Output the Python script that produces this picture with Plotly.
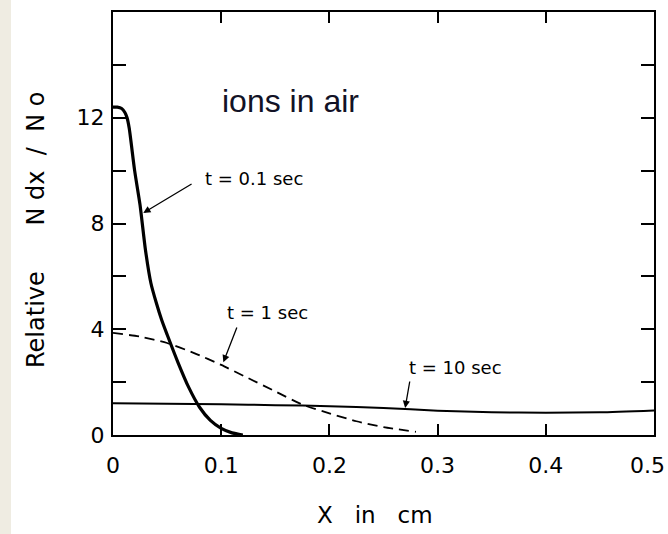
import plotly.graph_objects as go

# ---- data ----
x_t01 = [0, 0.004, 0.008, 0.011, 0.013, 0.015, 0.02, 0.025, 0.03, 0.035, 0.04, 0.045,
         0.05, 0.06, 0.07, 0.08, 0.09, 0.1, 0.11, 0.12]
y_t01 = [12.4, 12.4, 12.35, 12.2, 12.0, 11.6, 10.0, 8.7, 7.0, 5.75, 5.0, 4.35,
         3.8, 2.75, 1.8, 1.05, 0.55, 0.25, 0.08, 0.0]

x_t1 = [0, 0.025, 0.05, 0.075, 0.1, 0.125, 0.15, 0.175, 0.2, 0.225, 0.25, 0.28]
y_t1 = [3.86, 3.72, 3.48, 3.1, 2.65, 2.15, 1.65, 1.15, 0.82, 0.52, 0.3, 0.12]

x_t10 = [0, 0.05, 0.1, 0.15, 0.2, 0.25, 0.3, 0.35, 0.4, 0.45, 0.5]
y_t10 = [1.2, 1.18, 1.16, 1.13, 1.09, 1.02, 0.92, 0.86, 0.84, 0.86, 0.93]

x_tickvals = [0, 0.1, 0.2, 0.3, 0.4, 0.5]
x_ticktext = ["0", "0.1", "0.2", "0.3", "0.4", "0.5"]
y_tickvals = [0, 2, 4, 6, 8, 10, 12, 14]
y_ticktext = ["0", "", "4", "", "8", "", "12", ""]

labels = ["t = 0.1 sec", "t = 1 sec", "t = 10 sec"]

FONT = "DejaVu Sans"
NB = "\u00a0"

fig = go.Figure()
fig.add_trace(go.Scatter(x=x_t01, y=y_t01, mode="lines",
                         line=dict(color="black", width=3.2, shape="spline", smoothing=0.6),
                         showlegend=False, hoverinfo="skip"))
fig.add_trace(go.Scatter(x=x_t1, y=y_t1, mode="lines",
                         line=dict(color="black", width=1.8, dash="10px,6px", shape="spline", smoothing=0.6),
                         showlegend=False, hoverinfo="skip"))
fig.add_trace(go.Scatter(x=x_t10, y=y_t10, mode="lines",
                         line=dict(color="black", width=2, shape="spline", smoothing=0.6),
                         showlegend=False, hoverinfo="skip"))

annotations = []
# arrows (head at curve, tail near label)
arrows = [((0.028, 8.4), (0.074, 9.53)),
          ((0.102, 2.75), (0.115, 4.12)),
          ((0.27, 1.02), (0.2745, 2.08))]
for (hx, hy), (tx, ty) in arrows:
    annotations.append(dict(x=hx, y=hy, ax=tx, ay=ty, xref="x", yref="y", axref="x", ayref="y",
                            text="", showarrow=True, arrowhead=2, arrowsize=1.1,
                            arrowwidth=1.3, arrowcolor="black", standoff=0, startstandoff=0))
label_pos = [(0.0835, 9.72), (0.1035, 4.65), (0.2717, 2.57)]
for (lx, ly), t in zip(label_pos, labels):
    annotations.append(dict(x=lx, y=ly, xref="x", yref="y", text=t, showarrow=False,
                            xanchor="left", yanchor="middle",
                            font=dict(family=FONT, size=18, color="black")))
annotations.append(dict(x=0.099, y=12.63, xref="x", yref="y", text="ions in air", showarrow=False,
                        xanchor="left", yanchor="middle",
                        font=dict(family="Liberation Sans, Arial", size=32, color="#121226")))
annotations.append(dict(x=0.485, y=-0.189, xref="paper", yref="paper",
                        text="X" + NB * 3 + "in" + NB * 3 + "cm", showarrow=False,
                        xanchor="center", yanchor="middle",
                        font=dict(family=FONT, size=23, color="black")))
annotations.append(dict(x=-0.142, y=0.485, xref="paper", yref="paper",
                        text="Relative" + NB * 6 + "N" + NB + "dx" + NB * 2 + "/" + NB * 2 + "N" + NB + "o",
                        showarrow=False, textangle=-90,
                        xanchor="center", yanchor="middle",
                        font=dict(family=FONT, size=24, color="black")))
# last x tick label, nudged left so it stays inside the picture (as in the reference)
annotations.append(dict(x=x_tickvals[-1], y=0, xref="x", yref="paper", text=x_ticktext[-1],
                        showarrow=False, xanchor="right", yanchor="middle",
                        xshift=13, yshift=-30,
                        font=dict(family=FONT, size=22, color="black")))

x_ticktext_axis = x_ticktext[:-1] + [""]

fig.update_layout(
    width=668, height=534,
    margin=dict(l=113, r=14, t=12, b=99, autoexpand=False),
    paper_bgcolor="white", plot_bgcolor="white",
    annotations=annotations,
    shapes=[dict(type="rect", xref="paper", yref="paper", x0=-0.2089, x1=-0.1885,
                 y0=-0.25, y1=1.05, fillcolor="#efece2", line=dict(width=0), layer="below")],
    xaxis=dict(range=[0, 0.5], tickvals=x_tickvals, ticktext=x_ticktext_axis,
               ticks="inside", ticklen=11, tickwidth=2, tickcolor="black",
               showline=True, linecolor="black", linewidth=2, mirror="ticks",
               showgrid=False, zeroline=False, ticklabelstandoff=10,
               ticklabeloverflow="allow", automargin=False,
               tickfont=dict(family=FONT, size=22, color="black")),
    yaxis=dict(range=[0, 16], tickvals=y_tickvals, ticktext=y_ticktext,
               ticks="inside", ticklen=13, tickwidth=2, tickcolor="black",
               showline=True, linecolor="black", linewidth=2, mirror="ticks",
               showgrid=False, zeroline=False, ticklabelstandoff=2, automargin=False,
               tickfont=dict(family=FONT, size=22, color="black")),
)

fig.write_html("out.html")
